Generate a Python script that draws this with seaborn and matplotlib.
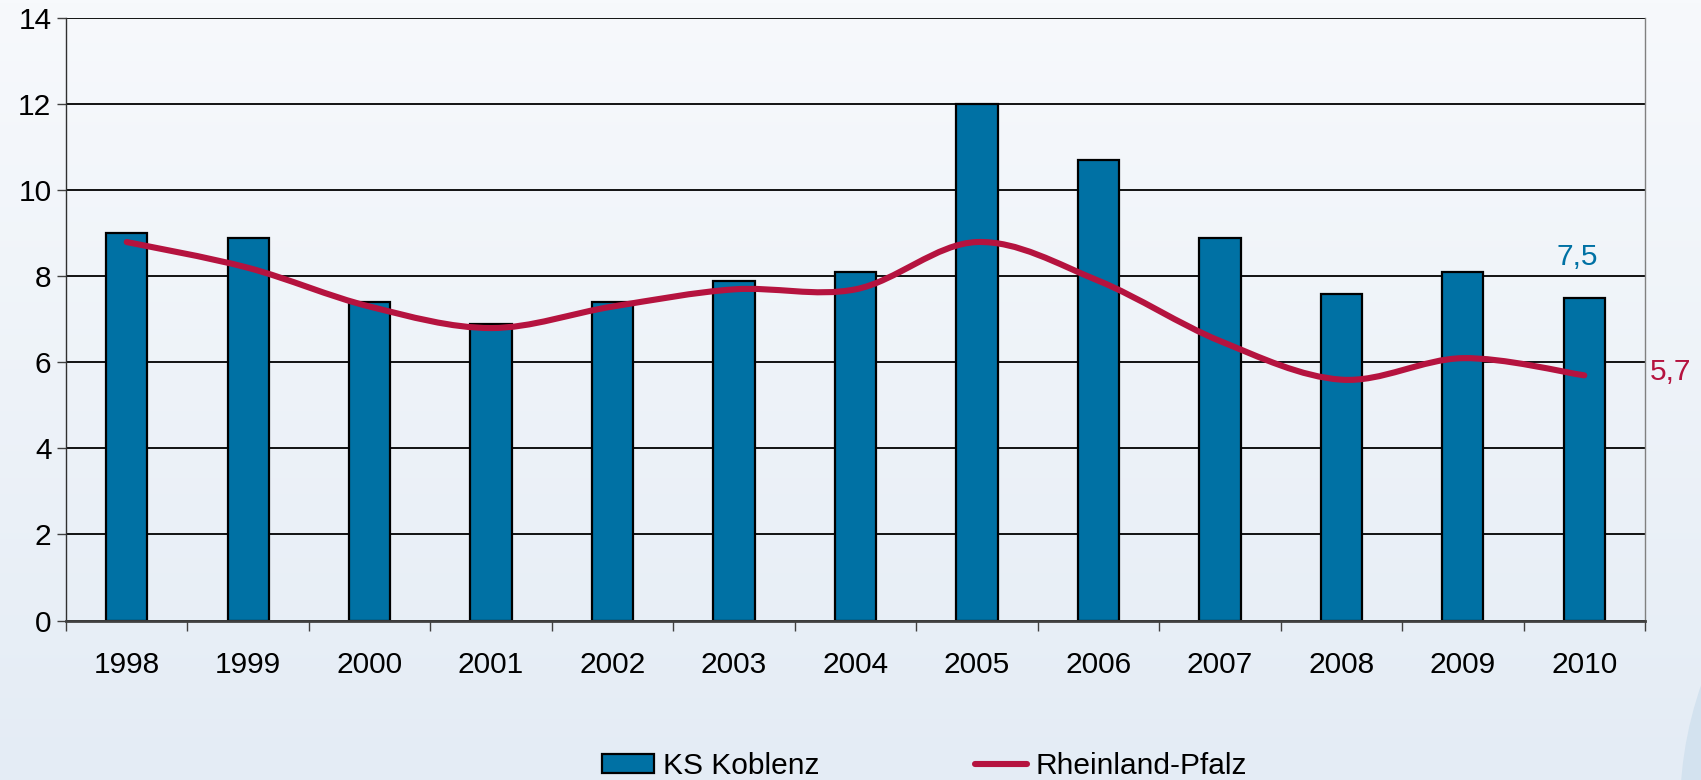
import numpy as np
import pandas as pd
import matplotlib
matplotlib.use("Agg")
import matplotlib.pyplot as plt
import seaborn as sns
from matplotlib.path import Path
from matplotlib.patches import PathPatch, Patch, Circle
from matplotlib.lines import Line2D

# ---- data ----
years = ["1998", "1999", "2000", "2001", "2002", "2003", "2004",
         "2005", "2006", "2007", "2008", "2009", "2010"]
ks_koblenz = [9.0, 8.9, 7.4, 6.9, 7.4, 7.9, 8.1, 12.0, 10.7, 8.9, 7.6, 8.1, 7.5]
rheinland_pfalz = [8.8, 8.2, 7.3, 6.8, 7.3, 7.7, 7.7, 8.8, 7.9, 6.5, 5.6, 6.1, 5.7]
y_ticks = [0, 2, 4, 6, 8, 10, 12, 14]
label_bar = "7,5"
label_line = "5,7"

BAR_C = "#0071a4"
LINE_C = "#b5133f"
FS = 21.5

sns.set_theme(style="white")
plt.rcParams['font.family'] = ['Liberation Sans', 'DejaVu Sans']
plt.rcParams['text.color'] = 'black'

fig = plt.figure(figsize=(17.01, 7.8), dpi=100)

# background gradient
bg = fig.add_axes([0, 0, 1, 1], zorder=-10)
grad = np.linspace(0, 1, 256).reshape(-1, 1)
top = np.array([247, 249, 252]) / 255
bot = np.array([228, 236, 245]) / 255
img = top[None, None, :] * (1 - grad[:, :, None]) + bot[None, None, :] * grad[:, :, None]
bg.imshow(img, aspect='auto', extent=[0, 1, 0, 1])
bg.set_axis_off()
circ = Circle((20.6, -0.3), 3.8, transform=fig.dpi_scale_trans,
              facecolor="#d3e2ef", edgecolor="none", zorder=-9)
fig.patches.append(circ)

ax = fig.add_axes([66 / 1701, 1 - 620.5 / 780, (1645 - 66) / 1701, (620.5 - 18.4) / 780])
ax.patch.set_alpha(0)

df = pd.DataFrame({"year": years, "value": ks_koblenz})
sns.barplot(data=df, x="year", y="value", color=BAR_C, saturation=1,
            edgecolor="black", linewidth=1.6, width=0.34, ax=ax, zorder=3)

# smoothed line (Excel-style Bezier through the data points)
xs = np.arange(len(years), dtype=float)
ys = np.array(rheinland_pfalz, dtype=float)
verts = [(xs[0], ys[0])]
codes = [Path.MOVETO]
n = len(xs)
for i in range(n - 1):
    p0 = np.array([xs[max(i - 1, 0)], ys[max(i - 1, 0)]])
    p1 = np.array([xs[i], ys[i]])
    p2 = np.array([xs[i + 1], ys[i + 1]])
    p3 = np.array([xs[min(i + 2, n - 1)], ys[min(i + 2, n - 1)]])
    c1 = p1 + (p2 - p0) / 6.0
    c2 = p2 - (p3 - p1) / 6.0
    verts += [tuple(c1), tuple(c2), tuple(p2)]
    codes += [Path.CURVE4] * 3
path = Path(verts, codes)
ax.add_patch(PathPatch(path, facecolor="none", edgecolor=LINE_C, lw=4.4,
                       capstyle="round", joinstyle="round", zorder=4))

ax.set_ylim(0, 14)
ax.set_xlim(-0.5, len(years) - 0.5)
ax.set_yticks(y_ticks)
ax.set_yticklabels([str(t) for t in y_ticks])
ax.yaxis.grid(True, color="black", lw=1.3, zorder=0)
ax.set_axisbelow(True)
ax.set_xlabel("")
ax.set_ylabel("")

# ticks
ax.tick_params(axis="y", which="major", length=6.5, width=1, color="#404040",
               labelsize=FS, pad=4, left=True, labelcolor="black")
ax.tick_params(axis="x", which="major", length=0, labelsize=FS, pad=22,
               labelcolor="black")
ax.set_xticks(np.arange(-0.5, len(years) + 0.5), minor=True)
ax.tick_params(axis="x", which="minor", length=7, width=1, color="#404040",
               bottom=True)

ax.spines["top"].set_visible(False)
ax.spines["left"].set_color("#303030")
ax.spines["left"].set_linewidth(1.0)
ax.spines["bottom"].set_color("#404040")
ax.spines["bottom"].set_linewidth(2.0)
ax.spines["bottom"].set_zorder(5)
ax.spines["right"].set_color("#808080")
ax.spines["right"].set_linewidth(1.0)

# value labels
ax.text(11.94, 8.45, label_bar, color=BAR_C, fontsize=FS, ha="center", va="center")
ax.text(12.71, 5.78, label_line, color=LINE_C, fontsize=FS, ha="center",
        va="center", clip_on=False)

handles = [Patch(facecolor=BAR_C, edgecolor="black", linewidth=1.6),
           Line2D([0], [0], color=LINE_C, lw=4.4, solid_capstyle="round")]
fig.legend(handles, ["KS Koblenz", "Rheinland-Pfalz"], loc="center",
           bbox_to_anchor=(0.5435, 0.018), ncol=2, frameon=False,
           fontsize=FS, handlelength=1.75, handleheight=0.65,
           handletextpad=0.3, columnspacing=5.2, labelcolor="black")

fig.savefig("out.png", dpi=100)
